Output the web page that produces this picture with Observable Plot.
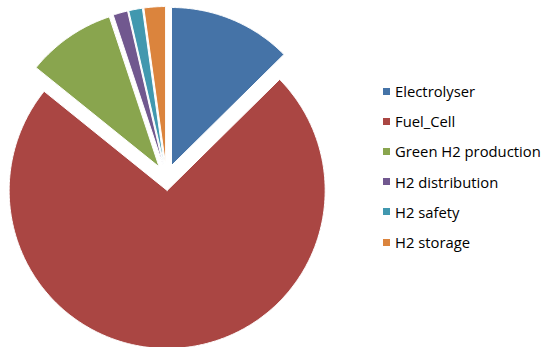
<!DOCTYPE html>
<html>
<head>
<meta charset="utf-8">
<script src="https://cdn.jsdelivr.net/npm/d3@7"></script>
<script src="https://cdn.jsdelivr.net/npm/@observablehq/plot@0.6"></script>
<style>
  html, body { margin: 0; padding: 0; background: #fff; }
  #wrap { position: relative; width: 544px; height: 347px; overflow: hidden; }
  #legend { position: absolute; left: 383px; top: 76px; font-family: "Open Sans", Lato, sans-serif; font-size: 14.8px; color: #000; }
  .item { display: flex; align-items: center; height: 30.2px; white-space: nowrap; }
  .sw { width: 7px; height: 7px; margin-right: 5px; flex: none; }
</style>
</head>
<body>
<div id="wrap"><div id="legend"></div></div>
<script>
const categories = ["Electrolyser", "Fuel_Cell", "Green H2 production", "H2 distribution", "H2 safety", "H2 storage"];
const values = [12.6, 73.2, 9.1, 1.5, 1.4, 2.2];
const colors = ["#4573A7", "#AA4643", "#89A54E", "#71588F", "#4198AF", "#DB843D"];

// layout
const W = 544, H = 347, cx = 166, cy = 177, R = 158, explode = 13 / 158;

const pie = d3.pie().sort(null).value(d => d.value)(categories.map((c, i) => ({category: c, value: values[i]})));

const pts = [];
for (const s of pie) {
  const mid = (s.startAngle + s.endAngle) / 2;
  const ox = explode * Math.sin(mid), oy = explode * Math.cos(mid);
  const c = s.data.category;
  pts.push({category: c, x: ox, y: oy});
  const n = Math.max(2, Math.ceil((s.endAngle - s.startAngle) / (Math.PI / 360)));
  for (let k = 0; k <= n; k++) {
    const a = s.startAngle + (s.endAngle - s.startAngle) * k / n;
    pts.push({category: c, x: ox + Math.sin(a), y: oy + Math.cos(a)});
  }
  pts.push({category: c, x: ox, y: oy});
}

const chart = Plot.plot({
  width: W, height: H,
  margin: 0,
  x: {domain: [-1, 1], range: [cx - R, cx + R], axis: null},
  y: {domain: [-1, 1], range: [cy + R, cy - R], axis: null},
  color: {domain: categories, range: colors},
  marks: [
    Plot.line(pts, {x: "x", y: "y", z: "category", fill: "category", stroke: "white", strokeWidth: 1, curve: "linear"})
  ]
});
chart.style.position = "absolute";
chart.style.left = "0"; chart.style.top = "0";
document.getElementById("wrap").prepend(chart);

const legend = document.getElementById("legend");
categories.forEach((c, i) => {
  const d = document.createElement("div");
  d.className = "item";
  d.innerHTML = `<span class="sw" style="background:${colors[i]}"></span><span>${c}</span>`;
  legend.appendChild(d);
});
</script>
</body>
</html>
